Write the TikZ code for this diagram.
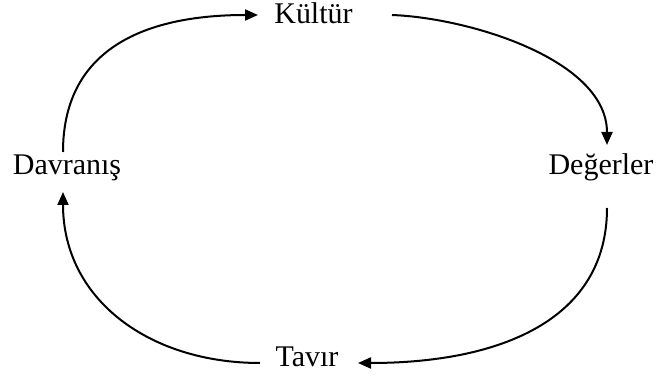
\documentclass[tikz,border=0pt]{standalone}
\usepackage{fontspec}
\setmainfont{Liberation Serif}
\usetikzlibrary{arrows.meta}
\begin{document}
\begin{tikzpicture}[x=1pt,y=1pt,
  lbl/.style={anchor=base,inner sep=0pt,font=\fontsize{30}{33}\selectfont},
  arr/.style={line width=2pt,-{Triangle[length=13pt,width=11pt]}}]
\useasboundingbox (0,0) rectangle (659,377);
\node[lbl] (kult) at (313.5,353) {Kültür};
\node[lbl] (davr) at (67,202) {Davranış};
\node[lbl] (deg) at (601,202) {Değerler};
\node[lbl] (tav) at (307,10) {Tavır};
\draw[arr] ([shift={(-4,23)}]davr.base) .. controls +(0,100) and +(-118,0) .. ([shift={(-55.5,9)}]kult.base);
\draw[arr] ([shift={(78.5,9)}]kult.base) .. controls +(78,-3) and +(0,85) .. ([shift={(6,30)}]deg.base);
\draw[arr] ([shift={(6,-33)}]deg.base) .. controls +(0,-112) and +(142,0) .. ([shift={(51,4)}]tav.base);
\draw[arr] ([shift={(-47,4)}]tav.base) .. controls +(-110,0) and +(0,-108) .. ([shift={(-4,-17)}]davr.base);
\end{tikzpicture}
\end{document}
